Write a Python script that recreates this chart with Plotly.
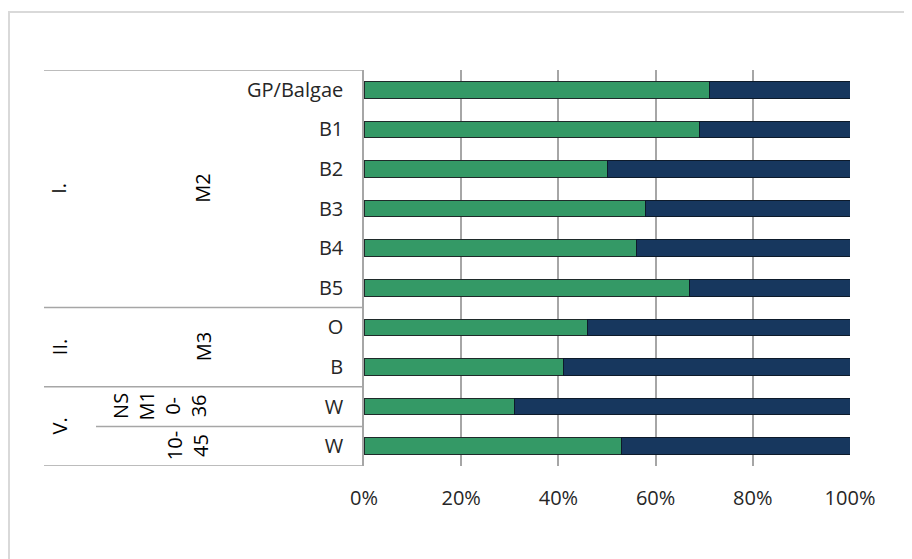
import plotly.graph_objects as go

# category axis levels (top to bottom)
groups = ["I.", "II.", "V."]
group_sizes = [6, 2, 2]
subgroups = ["M2", "M3", "NS<br>M1<br>0-<br>36", "10-<br>45"]
subgroup_sizes = [6, 2, 1, 1]
categories = ["GP/Balgae", "B1", "B2", "B3", "B4", "B5", "O", "B", "W", "W"]

# shares in percent
share_green = [71, 69, 50, 58, 56, 67, 46, 41, 31, 53]
share_navy = [29, 31, 50, 42, 44, 33, 54, 59, 69, 47]

GREEN = '#349966'
NAVY = '#17375e'
TEXT = '#262626'
LABEL = '#000000'
LINE = '#a6a6a6'
FONT = 'Open Sans, Lato, sans-serif'

# the page body adds an 8px offset, so margins are measured from there
OFF = 8
W, H = 912, 559
L, T = 364 - OFF, 70 - OFF
R = W - L - 486
B = H - T - 396
ph = H - T - B
pw = W - L - R


def px_to_paper_x(px):
    # px measured on the screenshot
    return (px - OFF - L) / pw


def px_to_paper_y(py):
    return (H - B - (py - OFF)) / ph


pos = list(range(len(categories)))

fig = go.Figure()
fig.add_trace(go.Bar(
    y=pos, x=share_green, orientation='h', name='green',
    marker=dict(color=GREEN, line=dict(color='#1f2a2a', width=1)),
))
fig.add_trace(go.Bar(
    y=pos, x=share_navy, orientation='h', name='navy',
    marker=dict(color=NAVY, line=dict(color='#0d1a2a', width=1)),
))

shapes = []
annotations = []

# outer chart border (Excel chart area): only left and top edges are in view
bx0, by0, bx1, by1 = px_to_paper_x(9), px_to_paper_y(600), px_to_paper_x(960), px_to_paper_y(12)
shapes.append(dict(
    type='path', xref='paper', yref='paper',
    path=f'M {bx0} {by0} L {bx0} {by1} L {bx1} {by1}',
    line=dict(color='#d9d9d9', width=2), layer='below'
))

# level 1 groups: separators + labels
start = 0
x_left = px_to_paper_x(44)
shapes.append(dict(type='line', xref='paper', yref='y', x0=x_left, x1=0,
                   y0=-0.5, y1=-0.5, line=dict(color=LINE, width=1.5)))
for name, size in zip(groups, group_sizes):
    end = start + size
    shapes.append(dict(type='line', xref='paper', yref='y', x0=x_left, x1=0,
                       y0=end - 0.5, y1=end - 0.5, line=dict(color=LINE, width=1.5)))
    annotations.append(dict(
        x=px_to_paper_x(59), xref='paper', y=(start + end - 1) / 2, yref='y',
        text=name, textangle=-90, showarrow=False,
        xanchor='center', yanchor='middle',
        font=dict(size=20, color=LABEL, family=FONT)
    ))
    start = end

# level 2 subgroups
start = 0
sub_x = [203, 203, 160, 187]
for name, size, sx in zip(subgroups, subgroup_sizes, sub_x):
    end = start + size
    annotations.append(dict(
        x=px_to_paper_x(sx), xref='paper', y=(start + end - 1) / 2, yref='y',
        text=name, textangle=-90, showarrow=False,
        xanchor='center', yanchor='middle',
        font=dict(size=20, color=LABEL, family=FONT)
    ))
    start = end

# inner separator inside group V.
shapes.append(dict(type='line', xref='paper', yref='y', x0=px_to_paper_x(96), x1=0,
                   y0=8.5, y1=8.5, line=dict(color=LINE, width=1.5)))

fig.update_layout(
    barmode='stack',
    bargap=0.58,
    width=W, height=H,
    margin=dict(l=L, r=R, t=T, b=B),
    plot_bgcolor='white',
    paper_bgcolor='white',
    showlegend=False,
    font=dict(family=FONT, size=20, color=TEXT),
    shapes=shapes,
    annotations=annotations,
    xaxis=dict(
        range=[0, 100], dtick=20, ticksuffix='%',
        showgrid=True, gridcolor=LINE, gridwidth=1.5,
        zeroline=False, showline=False,
        ticks='', ticklabelstandoff=18,
    ),
    yaxis=dict(
        tickvals=pos, ticktext=categories,
        range=[len(categories) - 0.5, -0.5],
        showgrid=False, zeroline=False,
        showline=True, linecolor=LINE, linewidth=1.5,
        ticks='', ticklabelstandoff=15,
    ),
)

fig.write_html("out.html")
